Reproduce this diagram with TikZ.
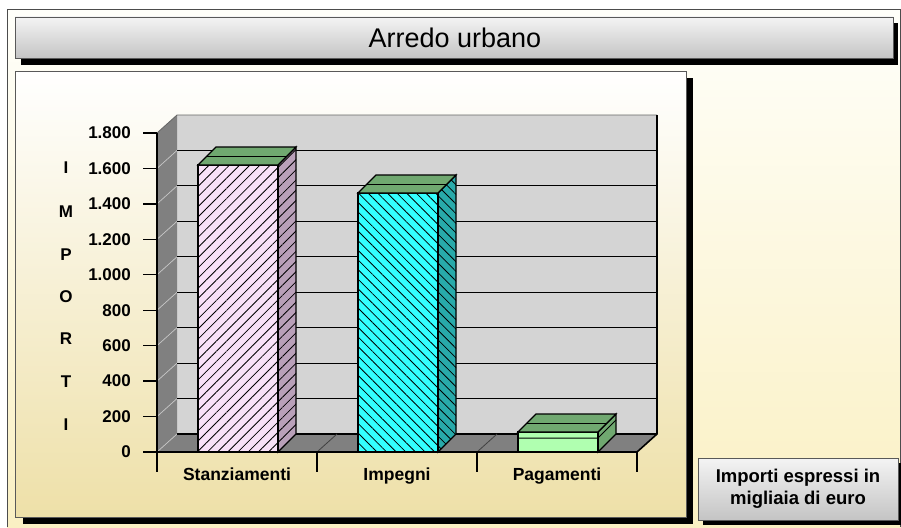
\documentclass[tikz,border=0pt]{standalone}
\usepackage{fontspec}
\setmainfont{Liberation Sans}
\usetikzlibrary{patterns.meta}
\definecolor{bgtop}{RGB}{255,255,250}
\definecolor{bgbot}{RGB}{250,240,195}
\definecolor{panelbot}{RGB}{238,224,168}
\definecolor{wallback}{RGB}{212,212,212}
\definecolor{wallside}{RGB}{128,128,128}
\definecolor{bonefront}{RGB}{248,225,248}
\definecolor{boneside}{RGB}{185,160,185}
\definecolor{btwofront}{RGB}{51,255,255}
\definecolor{btwoside}{RGB}{40,170,170}
\definecolor{gtop}{RGB}{112,168,112}
\definecolor{gfront}{RGB}{176,255,176}
\definecolor{barlight}{RGB}{244,244,244}
\definecolor{bardark}{RGB}{196,196,196}
\tikzset{
  ticklab/.style={anchor=east, inner sep=0pt, font=\fontsize{17}{20}\selectfont\bfseries},
  ylet/.style={inner sep=0pt, font=\fontsize{17}{20}\selectfont\bfseries},
  catlab/.style={anchor=base, inner sep=0pt, font=\fontsize{17.5}{20}\selectfont\bfseries},
  edge/.style={draw=black, line width=1.1pt},
  hatchne/.style={postaction={pattern={Lines[angle=45,distance=7.2pt,line width=0.8pt]}, pattern color=black}},
  hatchnw/.style={postaction={pattern={Lines[angle=-45,distance=6.8pt,line width=0.8pt]}, pattern color=black}},
}
\begin{document}
\begin{tikzpicture}[x=1pt,y=-1pt,line join=miter]
\useasboundingbox (0,0) rectangle (901,527);
\fill[white] (0,0) rectangle (901,527);
% outer panel
\shade[top color=bgtop, bottom color=bgbot] (7,10) rectangle (901,527);
\draw[black!70, line width=1pt] (7,527) -- (7,10) -- (900,10) -- (900,527);
% title bar
\fill[black] (21,23) rectangle (898,65);
\shade[top color=barlight, bottom color=bardark] (15,17) rectangle (893,58);
\draw[black!65, line width=0.8pt] (15,17) rectangle (893,58);
\node[font=\fontsize{27}{30}\selectfont] (title) at (455,38) {Arredo urbano};
% chart panel
\fill[black] (23,78) rectangle (693,524);
\shade[top color=white, bottom color=panelbot] (15,71) rectangle (686,517);
\draw[black!65, line width=0.8pt] (15,71) rectangle (686,517);
% note box
\fill[black] (703,463) rectangle (903,525);
\shade[top color=barlight, bottom color=bardark] (698,458) rectangle (898,520);
\draw[black!65, line width=0.8pt] (698,458) rectangle (898,520);
\node[align=center, inner sep=0pt, font=\fontsize{18.5}{22}\selectfont\bfseries] (note) at (798,489) {Importi espressi in\\migliaia di euro};
% walls
\fill[wallback] (177,115) rectangle (657,434);
\fill[wallside] (157,133) -- (177,115) -- (177,434) -- (157,452) -- cycle;
\fill[wallside] (157,452) -- (177,434) -- (657,434) -- (637,452) -- cycle;
\draw[black!60, line width=0.8pt] (157,133) -- (177,115) -- (657,115);
\foreach \i in {1,...,8} {
  \pgfmathsetmacro\yy{452-\i*35.444}
  \draw[black!22, line width=0.7pt] (157,\yy) -- (177,\yy-18);
  \draw[black, line width=1.1pt] (177,\yy-18) -- (657,\yy-18);
}
\draw[black!22, line width=0.7pt] (157,452) -- (177,434);
\draw[black, line width=1.1pt] (177,434) -- (657,434);
\draw[black, line width=1.6pt] (657,115) -- (657,434) -- (637,452);
\draw[black!75, line width=0.8pt] (317,452) -- (337,434);
\draw[black!75, line width=0.8pt] (477,452) -- (497,434);
% bar 1
\draw[edge, fill=boneside, hatchne] (278,452) -- (278,165) -- (296,147) -- (296,434) -- cycle;
\draw[edge, fill=bonefront, hatchne] (198,165) rectangle (278,452);
\draw[edge, fill=gtop] (198,165) -- (278,165) -- (296,147) -- (216,147) -- cycle;
\draw[black, line width=1pt] (207,156) -- (287,156);
% bar 2
\draw[edge, fill=btwoside, hatchnw] (438,452) -- (438,193) -- (456,175) -- (456,434) -- cycle;
\draw[edge, fill=btwofront, hatchnw] (358,193) rectangle (438,452);
\draw[edge, fill=gtop] (358,193) -- (438,193) -- (456,175) -- (376,175) -- cycle;
\draw[black, line width=1pt] (367,184) -- (447,184);
% bar 3
\draw[edge, fill=gtop] (598,452) -- (598,432) -- (616,414) -- (616,434) -- cycle;
\draw[edge, fill=gfront] (518,432) rectangle (598,452);
\draw[edge, fill=gtop] (518,432) -- (598,432) -- (616,414) -- (536,414) -- cycle;
\draw[black, line width=1pt] (527,423) -- (607,423);
\draw[black, line width=1pt] (518,438) -- (598,438) -- (616,420);
% axes
\draw[black, line width=1.6pt] (157,133) -- (157,472);
\draw[black, line width=1.6pt] (143,452) -- (637,452);
\foreach \x in {317,477,637} \draw[black, line width=1.4pt] (\x,452) -- (\x,472);
\foreach \i/\lab in {0/0,1/200,2/400,3/600,4/800,5/1.000,6/1.200,7/1.400,8/1.600,9/1.800} {
  \pgfmathsetmacro\yy{452-\i*35.444}
  \draw[black, line width=1.4pt] (143,\yy) -- (157,\yy);
  \node[ticklab] (tick\i) at (131,\yy) {\lab};
}
% y title
\node[ylet] (ya) at (66,168) {I};
\node[ylet] (yb) at (66,212) {M};
\node[ylet] (yc) at (66,255) {P};
\node[ylet] (yd) at (66,297) {O};
\node[ylet] (ye) at (66,339) {R};
\node[ylet] (yf) at (66,382) {T};
\node[ylet] (yg) at (66,425) {I};
% categories
\node[catlab] (ca) at (237,480) {Stanziamenti};
\node[catlab] (cb) at (397,480) {Impegni};
\node[catlab] (cc) at (557,480) {Pagamenti};
\end{tikzpicture}
\end{document}
